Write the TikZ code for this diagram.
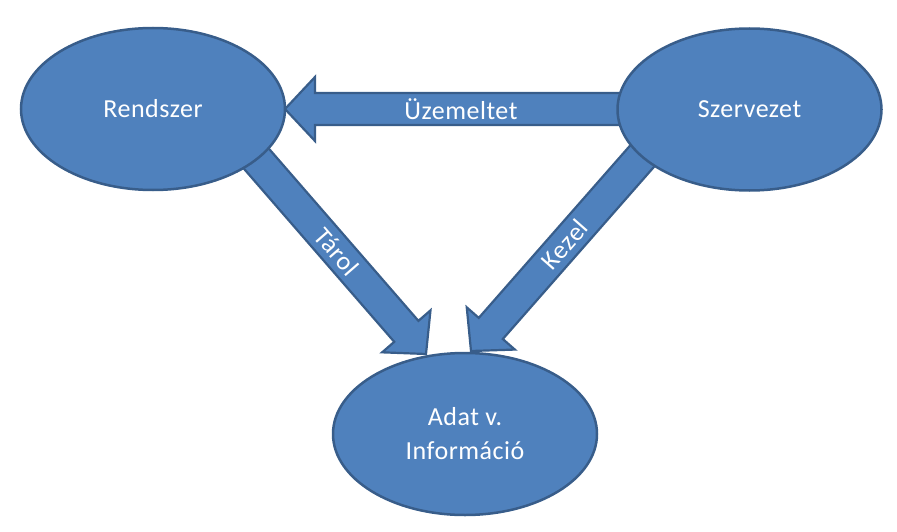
\documentclass[tikz,border=0pt]{standalone}
\usepackage{fontspec}
\setmainfont{Carlito}[LetterSpace=2]
\usetikzlibrary{shapes.geometric,calc}
\definecolor{bfill}{HTML}{4F81BD}
\definecolor{bline}{HTML}{385D8A}
\tikzset{
  blob/.style={ellipse, fill=bfill, draw=bline, line width=2.5pt, inner sep=0pt,
    minimum width=264pt, minimum height=162pt, text=white, align=center,
    font=\fontsize{26}{34}\selectfont},
  barrow/.style={fill=bfill, draw=bline, line width=2.2pt, line join=miter},
  lbl/.style={text=white, font=\fontsize{26}{30}\selectfont, inner sep=0pt}
}
\newcommand\blockarrow[2]{%
  \draw[barrow] (#2)
    -- ($(#2)!30pt!(#1)!32pt!90:(#2)$)
    -- ($(#2)!30pt!(#1)!16pt!90:(#2)$)
    -- ($(#1)!16pt!90:(#2)$)
    -- ($(#1)!16pt!-90:(#2)$)
    -- ($(#2)!30pt!(#1)!16pt!-90:(#2)$)
    -- ($(#2)!30pt!(#1)!32pt!-90:(#2)$)
    -- cycle;}
\begin{document}
\begin{tikzpicture}[x=1pt,y=-1pt]
\useasboundingbox (0,0) rectangle (897,532);
% arrow end points
\coordinate (t1) at (630,109);
\coordinate (p1) at (285,109);
\coordinate (t2) at (248,149);
\coordinate (p2) at (426,354);
\coordinate (t3) at (651,146);
\coordinate (p3) at (471,351);
\blockarrow{t1}{p1}
\blockarrow{t2}{p2}
\blockarrow{t3}{p3}
\path (t1) -- node[lbl, sloped, pos=0.49] {Üzemeltet} (p1);
\path (t2) -- node[lbl, sloped, pos=0.5] {Tárol} (p2);
\path (t3) -- node[lbl, sloped, pos=0.48] {Kezel} (p3);
\node[blob] (rendszer) at (153,109) {Rendszer};
\node[blob] (szervezet) at (749.5,109.5) {Szervezet};
\node[blob] (adat) at (465,434) {Adat v.\\Információ};
\end{tikzpicture}
\end{document}
